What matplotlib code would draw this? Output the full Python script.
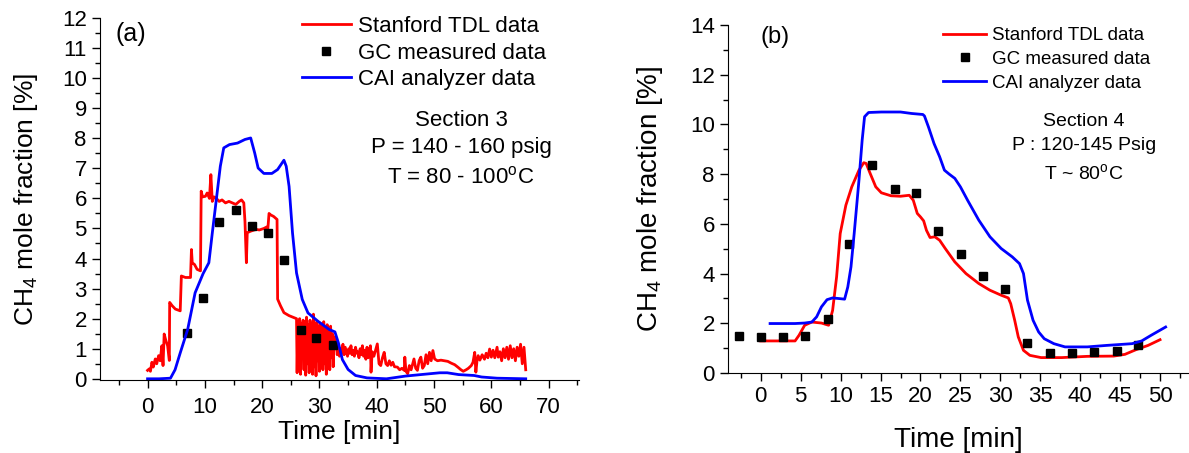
import matplotlib
matplotlib.use('Agg')
import matplotlib.pyplot as plt
from matplotlib.ticker import MultipleLocator

plt.rcParams['font.family'] = ['Liberation Sans', 'DejaVu Sans']
plt.rcParams['mathtext.default'] = 'regular'

# ---------------- panel (a) : Section 3 ----------------
tdl_a_t = [0, 0.3, 0.5, 0.76, 1.0, 1.35, 1.6, 1.93, 2.2, 2.5, 2.7, 2.9, 3.2, 3.5, 3.8,
           3.86, 4.3, 4.85, 5.7, 5.9, 6.6, 7.5, 7.66, 7.8, 8.2, 8.65, 9.24, 9.36,
           9.6, 10.1, 10.4, 10.8, 11.05, 11.3, 11.6, 11.9, 12.5, 13.0, 13.6, 14.2, 14.8,
           15.4, 16.0, 16.4, 16.8, 17.0, 17.25, 17.4, 18.0, 18.9, 19.5, 20.3, 20.8, 21.0,
           21.2, 21.5, 22.0, 22.6, 22.7, 23.2, 23.8, 24.7, 25.5, 26.0,
           26.1, 26.25, 26.4, 26.55, 26.7, 26.85, 27.0, 27.15, 27.3, 27.45, 27.6, 27.75,
           27.9, 28.05, 28.2, 28.35, 28.5, 28.65, 28.8, 28.95, 29.1, 29.25, 29.4, 29.55,
           29.7, 29.85, 30.0, 30.15, 30.3, 30.45, 30.6, 30.75, 30.9, 31.05, 31.2, 31.35,
           31.5, 31.65, 31.8, 31.95, 32.1, 32.25, 32.4, 32.55, 32.7,
           32.9, 33.1, 33.3, 33.5, 33.7, 33.9, 34.1, 34.3, 34.5, 34.7, 34.9, 35.1, 35.3,
           35.5, 35.7, 35.9, 36.1, 36.3, 36.5, 36.7, 36.9, 37.1, 37.3, 37.5, 37.7, 37.9,
           38.1, 38.3, 38.5, 38.7, 38.9, 39.0, 39.2, 39.5, 40.1, 40.4, 40.7, 41.0, 41.3,
           41.6, 41.9, 42.2, 42.5, 42.8, 43.1, 43.6, 44.0, 44.4, 44.8, 44.9, 45.1, 45.4,
           45.7, 46.0, 46.5, 46.8, 47.1, 47.4, 47.7, 48.0, 48.3, 48.6, 48.9, 49.2, 49.5,
           49.8, 50.1, 50.6, 51.2, 51.8, 52.4, 53.0, 53.6, 54.2, 54.7, 55.1, 55.6, 56.0,
           56.5, 56.8, 57.1, 57.3, 57.5, 57.7, 58.0, 58.4, 58.8, 59.1, 59.4, 59.7, 60.0,
           60.3, 60.6, 61.0, 61.2, 61.5, 61.8, 62.1, 62.4, 62.7, 63.0, 63.3, 63.6, 63.9,
           64.2, 64.5, 64.8, 65.1, 65.4, 65.7, 66.0]
tdl_a_v = [0.28, 0.33, 0.25, 0.55, 0.39, 0.66, 0.5, 0.77, 0.6, 1.1, 0.44, 1.49, 1.27, 1.1, 0.61,
           2.54, 2.43, 2.32, 2.26, 3.42, 3.37, 3.37, 4.3, 3.86, 3.8, 3.64, 3.59, 6.24,
           6.05, 6.07, 6.18, 6.0, 6.79, 5.9, 6.05, 6.02, 5.9, 5.95, 5.85, 5.9, 5.85,
           5.8, 5.9, 5.95, 5.85, 5.24, 3.86, 4.86, 4.91, 4.97, 4.95, 5.0, 5.05, 5.0,
           5.5, 5.45, 5.4, 5.3, 2.65, 2.43, 2.2, 2.1, 2.04, 2.0,
           0.2, 1.9, 0.55, 2.0, 0.15, 1.85, 0.8, 1.95, 0.3, 1.9, 0.12, 2.05,
           0.5, 1.8, 0.2, 1.95, 0.9, 1.85, 0.15, 2.15, 0.4, 1.8, 0.1, 1.9,
           0.6, 1.75, 0.25, 1.85, 0.9, 1.7, 0.3, 1.9, 0.5, 1.65, 0.15, 1.8,
           1.0, 1.6, 0.3, 1.75, 0.7, 1.5, 0.4, 1.4, 1.0,
           1.25, 0.8, 1.1, 0.75, 1.0, 0.85, 1.15, 0.8, 1.05, 0.9, 0.75, 1.0, 0.85,
           1.1, 0.8, 0.95, 0.75, 1.05, 0.85, 0.9, 0.7, 1.0, 0.8, 1.1, 0.75, 0.95,
           0.65, 1.05, 0.7, 0.9, 1.1, 0.22, 0.9, 0.75, 1.16, 0.5, 0.44, 0.7, 0.88,
           0.5, 0.44, 0.6, 0.45, 0.55, 0.4, 0.39, 0.3, 0.35, 0.28, 0.72, 0.25, 0.17,
           0.44, 0.3, 0.66, 0.35, 0.28, 0.6, 0.72, 0.35, 0.44, 0.8, 0.5, 0.88, 0.6,
           0.94, 0.66, 0.6, 0.62, 0.6, 0.58, 0.52, 0.47, 0.38, 0.3, 0.25, 0.3, 0.35,
           0.44, 0.55, 0.88, 0.22, 0.6, 0.77, 0.62, 0.8, 0.65, 0.85, 0.7, 0.99, 0.72,
           0.95, 0.7, 1.05, 0.72, 0.9, 0.6, 1.0, 0.7, 1.05, 0.65, 1.1, 0.7, 1.0,
           0.6, 1.05, 0.75, 1.15, 0.5, 1.05, 0.3]

gc_a_t = [6.87, 9.73, 12.5, 15.4, 18.3, 21.1, 23.9, 26.7, 29.4, 32.3]
gc_a_v = [1.53, 2.68, 5.22, 5.61, 5.09, 4.84, 3.96, 1.63, 1.35, 1.13]

cai_a_t = [0, 2.0, 4.0, 4.8, 5.7, 7.0, 8.3, 9.7, 10.7, 11.3, 12.0, 12.7, 13.3, 14.3,
           15.7, 17.0, 18.0, 18.7, 19.3, 20.3, 21.7, 22.7, 23.8, 24.2, 24.7, 25.3,
           26.0, 27.0, 28.0, 29.7, 31.7, 32.7, 33.3, 34.0, 35.0, 36.3, 38.3, 41.7,
           45.0, 47.7, 51.0, 52.3, 54.3, 57.0, 58.3, 61.0, 66.0]
cai_a_v = [0, 0, 0.02, 0.3, 0.86, 1.64, 2.86, 3.5, 3.86, 4.85, 5.96, 7.07, 7.68, 7.79,
           7.84, 7.96, 8.01, 7.51, 7.01, 6.83, 6.83, 6.96, 7.27, 7.07, 6.4, 4.85,
           3.52, 2.64, 2.19, 1.92, 1.64, 1.56, 1.2, 0.64, 0.31, 0.11, 0.03, 0.0,
           0.09, 0.14, 0.2, 0.2, 0.14, 0.11, 0.06, 0.02, 0.0]

# ---------------- panel (b) : Section 4 ----------------
tdl_b_t = [0, 4.3, 4.8, 5.5, 6.4, 7.6, 8.5, 9.0, 9.5, 9.95, 10.66, 11.4, 12.3, 12.9,
           13.2, 13.7, 14.4, 15.1, 16.3, 17.5, 18.6, 19.1, 19.6, 20.0, 20.4, 20.75,
           21.2, 21.8, 22.4, 23.1, 24.3, 25.7, 27.3, 28.7, 30.1, 31.0, 31.3, 31.8,
           32.25, 32.9, 33.7, 35.1, 37.7, 40.9, 44.2, 45.6, 47.0, 48.5, 50.0]
tdl_b_v = [1.29, 1.29, 1.52, 1.92, 2.05, 2.01, 1.92, 2.52, 3.87, 5.61, 6.75, 7.49, 8.16, 8.46,
           8.43, 8.03, 7.49, 7.25, 7.13, 7.11, 7.15, 6.95, 6.42, 6.28, 6.12, 5.74,
           5.45, 5.48, 5.34, 5.01, 4.47, 4.0, 3.6, 3.33, 3.13, 3.02, 2.79, 2.12,
           1.45, 0.91, 0.71, 0.62, 0.62, 0.67, 0.68, 0.75, 0.94, 1.11, 1.34]

gc_b_t = [-2.72, 0.09, 2.82, 5.59, 8.4, 11.1, 13.9, 16.8, 19.5, 22.25, 25.1, 27.8,
          30.6, 33.4, 36.2, 39.0, 41.7, 44.55, 47.3]
gc_b_v = [1.48, 1.45, 1.45, 1.48, 2.19, 5.17, 8.36, 7.41, 7.25, 5.70, 4.79, 3.92,
          3.37, 1.21, 0.81, 0.81, 0.85, 0.87, 1.11]

cai_b_t = [1.17, 4.3, 5.5, 6.4, 7.0, 7.6, 8.3, 9.0, 9.95, 10.5, 10.9, 11.3, 11.7, 12.3,
           12.7, 13.0, 13.5, 15.1, 17.5, 18.9, 20.3, 20.5, 21.0, 21.7, 22.4, 23.0,
           23.6, 24.3, 25.0, 25.9, 27.3, 28.7, 30.1, 31.5, 32.4, 32.9, 33.4, 34.1,
           34.8, 35.5, 36.7, 38.1, 40.9, 43.3, 46.5, 47.7, 48.9, 50.7]
cai_b_v = [1.99, 1.99, 2.01, 2.05, 2.26, 2.66, 2.95, 3.02, 2.99, 2.97, 3.46, 4.27, 5.61, 7.76,
           9.37, 10.31, 10.48, 10.5, 10.5, 10.44, 10.4, 10.34, 9.9, 9.23, 8.7, 8.16,
           8.0, 7.83, 7.49, 6.95, 6.15, 5.48, 5.01, 4.67, 4.4, 4.0, 2.93, 2.12,
           1.65, 1.38, 1.18, 1.05, 1.05, 1.11, 1.18, 1.29, 1.52, 1.85]

W, H = 1189, 453
fig = plt.figure(figsize=(W / 100, H / 100), dpi=100)

ax1 = fig.add_axes([100 / W, 1 - 380 / H, 479 / W, 362 / H])
ax2 = fig.add_axes([728 / W, 1 - 373 / H, 460 / W, 348 / H])

for ax in (ax1, ax2):
    ax.spines['top'].set_visible(False)
    ax.spines['right'].set_visible(False)
    ax.tick_params(which='both', direction='out', labelsize=16, width=1)
    ax.tick_params(which='major', length=6)
    ax.tick_params(which='minor', length=3.5)

# panel (a)
ax1.plot(tdl_a_t, tdl_a_v, color='#ff0000', lw=2, label='Stanford TDL data')
ax1.plot(gc_a_t, gc_a_v, 's', color='black', ms=5.5, label='GC measured data')
ax1.plot(cai_a_t, cai_a_v, color='#0000ff', lw=2, label='CAI analyzer data')
ax1.set_xlim(-8.3, 75.3)
ax1.set_ylim(-0.04, 12)
ax1.xaxis.set_minor_locator(MultipleLocator(5))
ax1.yaxis.set_major_locator(MultipleLocator(1))
ax1.yaxis.set_minor_locator(MultipleLocator(0.5))
ax1.set_xticks([0, 10, 20, 30, 40, 50, 60, 70])
ax1.tick_params(axis='x', pad=6)
ax1.set_xlabel('Time [min]', fontsize=19, labelpad=2)
ax1.set_ylabel('CH$_4$ mole fraction [%]', fontsize=19, labelpad=16)
ax1.legend(loc='upper left', bbox_to_anchor=(302 / W, 1 - 16 / H),
           bbox_transform=fig.transFigure, frameon=False, fontsize=16,
           handlelength=2.2, handletextpad=0.3, labelspacing=0.25,
           borderpad=0, borderaxespad=0, numpoints=1)
fig.text(131 / W, 1 - 34 / H, '(a)', fontsize=18, ha='center', va='center')
fig.text(461 / W, 1 - 120 / H, 'Section 3', fontsize=16, ha='center', va='center')
fig.text(461 / W, 1 - 148 / H, 'P = 140 - 160 psig', fontsize=16, ha='center', va='center')
fig.text(461 / W, 1 - 177 / H, 'T = 80 - 100$^{o}$C', fontsize=16, ha='center', va='center')

# panel (b)
ax2.plot(tdl_b_t, tdl_b_v, color='#ff0000', lw=2, label='Stanford TDL data')
ax2.plot(gc_b_t, gc_b_v, 's', color='black', ms=5.5, label='GC measured data')
ax2.plot(cai_b_t, cai_b_v, color='#0000ff', lw=2, label='CAI analyzer data')
ax2.set_xlim(-4.1, 53.5)
ax2.set_ylim(0, 14)
ax2.set_xticks([0, 5, 10, 15, 20, 25, 30, 35, 40, 45, 50])
ax2.xaxis.set_minor_locator(MultipleLocator(2.5))
ax2.yaxis.set_major_locator(MultipleLocator(2))
ax2.yaxis.set_minor_locator(MultipleLocator(1))
ax2.set_xlabel('Time [min]', fontsize=20, labelpad=14)
ax2.set_ylabel('CH$_4$ mole fraction [%]', fontsize=20, labelpad=18)
ax2.legend(loc='upper left', bbox_to_anchor=(943 / W, 1 - 27 / H),
           bbox_transform=fig.transFigure, frameon=False, fontsize=13.5,
           handlelength=2.3, handletextpad=0.3, labelspacing=0.35,
           borderpad=0, borderaxespad=0, numpoints=1)
fig.text(775 / W, 1 - 37 / H, '(b)', fontsize=17, ha='center', va='center')
fig.text(1084 / W, 1 - 122 / H, 'Section 4', fontsize=14, ha='center', va='center')
fig.text(1084 / W, 1 - 146 / H, 'P : 120-145 Psig', fontsize=14, ha='center', va='center')
fig.text(1084 / W, 1 - 173 / H, 'T ~ 80$^{o}$C', fontsize=14, ha='center', va='center')

fig.savefig('out.png', dpi=100)
